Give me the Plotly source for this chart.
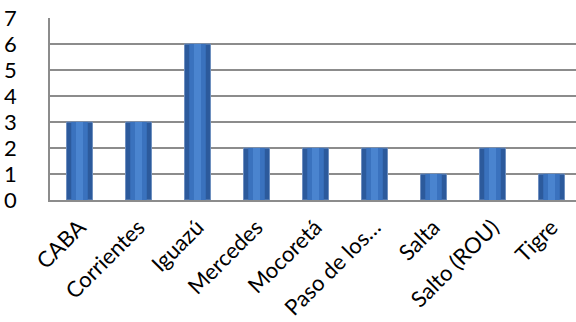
import plotly.graph_objects as go

categories = ["CABA", "Corrientes", "Iguazú", "Mercedes", "Mocoretá",
              "Paso de los…", "Salta", "Salto (ROU)", "Tigre"]
values = [3, 3, 6, 2, 2, 2, 1, 2, 1]
y_ticks = [0, 1, 2, 3, 4, 5, 6, 7]

fig = go.Figure()
fig.add_trace(go.Bar(
    x=categories, y=values, width=0.44,
    marker=dict(color="#2C5A9C", line=dict(color="#6E8FBF", width=1)),
    hoverinfo="skip", showlegend=False,
))
fig.add_trace(go.Bar(
    x=categories, y=values, width=0.28,
    marker=dict(color="#3A72BE", line=dict(width=0)),
    hoverinfo="skip", showlegend=False,
))
fig.add_trace(go.Bar(
    x=categories, y=values, width=0.12,
    marker=dict(color="#4A84CF", line=dict(width=0)),
    hoverinfo="skip", showlegend=False,
))

font = "Lato, 'Open Sans', sans-serif"
fig.update_layout(
    width=576, height=322,
    margin=dict(l=50, r=0, t=18, b=122),
    paper_bgcolor="white", plot_bgcolor="white",
    barmode="overlay",
    font=dict(family=font, size=22, color="black"),
    xaxis=dict(
        type="category", range=[-0.5, 8.415],
        tickangle=-45, showgrid=False,
        showline=True, linecolor="#8C8C8C", linewidth=1.5,
        ticks="", ticklabelstandoff=4,
        tickfont=dict(size=22, family=font),
    ),
    yaxis=dict(
        range=[0, 7], tickvals=y_ticks, ticktext=[str(v) for v in y_ticks],
        showgrid=True, gridcolor="#8C8C8C", gridwidth=1.5,
        showline=True, linecolor="#8C8C8C", linewidth=1.5,
        ticks="", ticklabelstandoff=27,
        tickfont=dict(size=22, family=font),
        zeroline=False,
    ),
)

fig.write_html("out.html")
